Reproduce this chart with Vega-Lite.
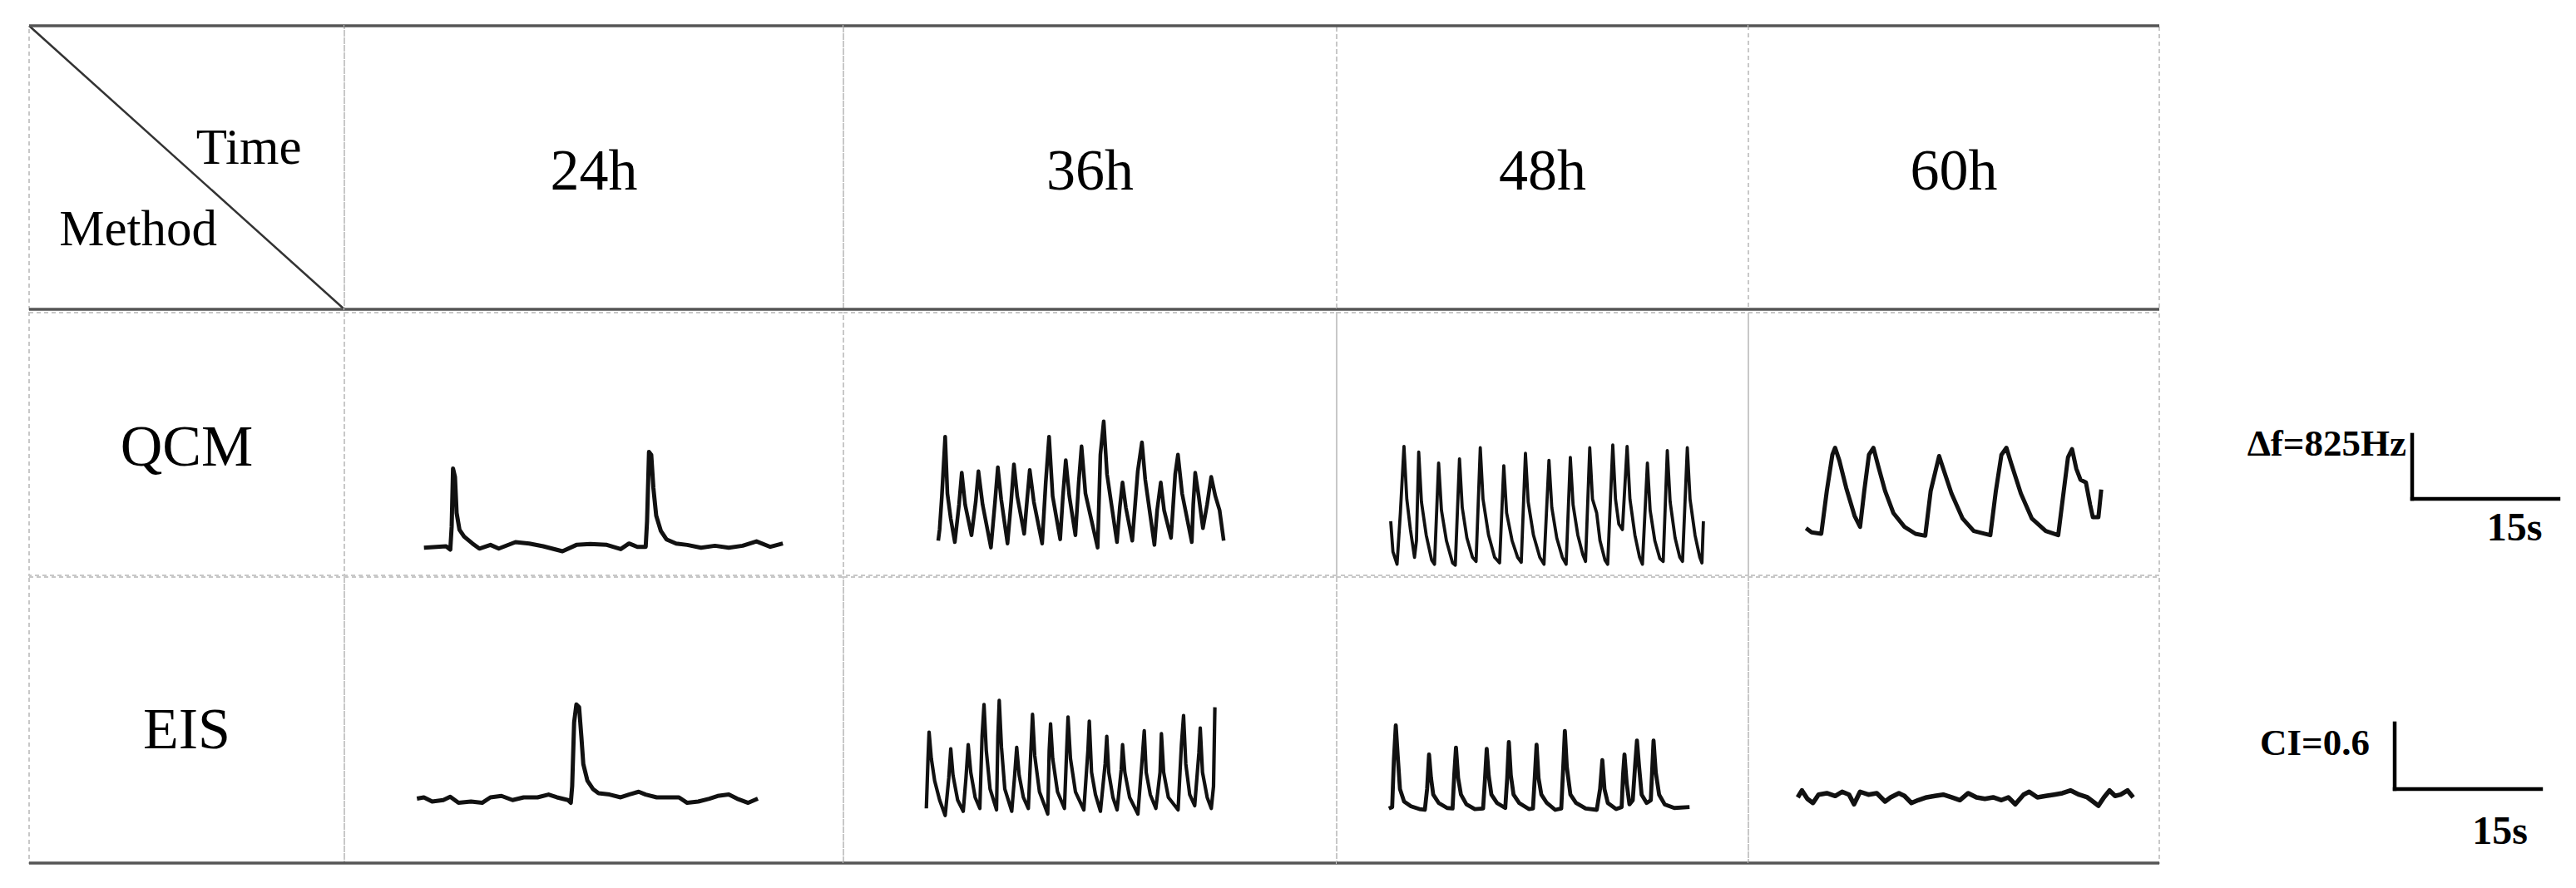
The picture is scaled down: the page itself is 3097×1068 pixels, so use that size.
{
"$schema": "https://vega.github.io/schema/vega-lite/v6.json",
"padding": {"left": 32, "top": 28, "right": 0, "bottom": 0},
"background": "white",
"spacing": 0,
"config": {"view": {"stroke": "#c8c8c8", "strokeWidth": 2, "strokeDash": [5, 4]}, "font": "Liberation Serif"},
"datasets": {
"qcm24": [{"t":0,"v":-18},{"t":2.27,"v":0},{"t":2.7,"v":-43},{"t":2.84,"v":250},{"t":2.98,"v":1000},{"t":3.18,"v":893},{"t":3.35,"v":428},{"t":3.64,"v":214},{"t":4.12,"v":125},{"t":4.97,"v":36},{"t":5.68,"v":-29},{"t":6.82,"v":18},{"t":7.67,"v":-29},{"t":9.38,"v":54},{"t":10.8,"v":36},{"t":12.22,"v":0},{"t":14.2,"v":-64},{"t":15.63,"v":18},{"t":17.05,"v":29},{"t":18.75,"v":18},{"t":20.17,"v":-36},{"t":21.02,"v":36},{"t":21.88,"v":-7},{"t":22.73,"v":-7},{"t":22.87,"v":321},{"t":23.07,"v":1214},{"t":23.3,"v":1178},{"t":23.52,"v":750},{"t":23.81,"v":393},{"t":24.29,"v":196},{"t":24.86,"v":89},{"t":25.85,"v":36},{"t":26.99,"v":18},{"t":28.4,"v":-18},{"t":29.83,"v":7},{"t":31.25,"v":-18},{"t":32.67,"v":7},{"t":34.09,"v":64},{"t":35.51,"v":-7},{"t":36.79,"v":36}],
"qcm36": [{"t":0,"v":0},{"t":0.14,"v":143},{"t":0.37,"v":571},{"t":0.71,"v":1339},{"t":0.94,"v":607},{"t":1.28,"v":286},{"t":1.7,"v":-18},{"t":2.13,"v":464},{"t":2.41,"v":875},{"t":2.76,"v":464},{"t":3.41,"v":71},{"t":3.84,"v":500},{"t":4.12,"v":893},{"t":4.55,"v":464},{"t":5.4,"v":-89},{"t":5.82,"v":500},{"t":6.11,"v":946},{"t":6.45,"v":536},{"t":7.1,"v":-36},{"t":7.47,"v":500},{"t":7.76,"v":982},{"t":8.1,"v":571},{"t":8.81,"v":89},{"t":9.09,"v":500},{"t":9.38,"v":910},{"t":9.8,"v":500},{"t":10.65,"v":-36},{"t":11.02,"v":750},{"t":11.36,"v":1339},{"t":11.73,"v":571},{"t":12.5,"v":18},{"t":12.78,"v":571},{"t":13.07,"v":1035},{"t":13.44,"v":571},{"t":14.06,"v":71},{"t":14.4,"v":750},{"t":14.69,"v":1214},{"t":15.09,"v":607},{"t":16.34,"v":-89},{"t":16.62,"v":1107},{"t":16.96,"v":1535},{"t":17.3,"v":857},{"t":18.32,"v":-18},{"t":18.61,"v":428},{"t":18.89,"v":750},{"t":19.23,"v":428},{"t":19.89,"v":0},{"t":20.45,"v":893},{"t":20.88,"v":1267},{"t":21.22,"v":785},{"t":22.16,"v":-54},{"t":22.44,"v":393},{"t":22.81,"v":750},{"t":23.15,"v":393},{"t":23.86,"v":36},{"t":24.29,"v":857},{"t":24.57,"v":1107},{"t":25.0,"v":607},{"t":25.99,"v":-18},{"t":26.14,"v":464},{"t":26.34,"v":875},{"t":26.7,"v":571},{"t":27.13,"v":161},{"t":27.56,"v":464},{"t":27.98,"v":821},{"t":28.41,"v":571},{"t":28.84,"v":393},{"t":29.26,"v":0}],
"qcm48": [{"t":0,"v":536},{"t":0.23,"v":143},{"t":0.65,"v":-18},{"t":0.99,"v":643},{"t":1.36,"v":1499},{"t":1.65,"v":821},{"t":2.02,"v":428},{"t":2.44,"v":71},{"t":2.64,"v":286},{"t":2.87,"v":1428},{"t":3.15,"v":785},{"t":3.64,"v":357},{"t":4.2,"v":36},{"t":4.49,"v":-18},{"t":4.91,"v":1285},{"t":5.2,"v":678},{"t":5.71,"v":286},{"t":6.34,"v":0},{"t":6.62,"v":-29},{"t":7.05,"v":1339},{"t":7.33,"v":714},{"t":7.81,"v":321},{"t":8.38,"v":71},{"t":8.75,"v":18},{"t":9.18,"v":1482},{"t":9.46,"v":821},{"t":10.03,"v":357},{"t":10.65,"v":71},{"t":11.16,"v":0},{"t":11.59,"v":1250},{"t":11.88,"v":643},{"t":12.44,"v":286},{"t":13.01,"v":71},{"t":13.38,"v":7},{"t":13.81,"v":1410},{"t":14.09,"v":785},{"t":14.63,"v":357},{"t":15.28,"v":71},{"t":15.71,"v":-18},{"t":16.22,"v":1321},{"t":16.51,"v":714},{"t":17.02,"v":321},{"t":17.59,"v":71},{"t":17.98,"v":-18},{"t":18.41,"v":1357},{"t":18.69,"v":750},{"t":19.18,"v":357},{"t":19.69,"v":107},{"t":19.97,"v":18},{"t":20.4,"v":1482},{"t":20.68,"v":821},{"t":21.11,"v":643},{"t":21.45,"v":286},{"t":21.96,"v":36},{"t":22.24,"v":-18},{"t":22.76,"v":1517},{"t":23.04,"v":821},{"t":23.38,"v":500},{"t":23.75,"v":428},{"t":24.23,"v":1499},{"t":24.52,"v":821},{"t":25.03,"v":357},{"t":25.51,"v":71},{"t":25.8,"v":-18},{"t":26.31,"v":1285},{"t":26.59,"v":678},{"t":27.07,"v":286},{"t":27.59,"v":54},{"t":27.93,"v":18},{"t":28.35,"v":1446},{"t":28.64,"v":785},{"t":29.15,"v":321},{"t":29.63,"v":71},{"t":29.91,"v":18},{"t":30.4,"v":1482},{"t":30.68,"v":821},{"t":31.19,"v":357},{"t":31.68,"v":71},{"t":31.9,"v":0},{"t":32.05,"v":536}],
"qcm60": [{"t":0,"v":71},{"t":0.57,"v":18},{"t":1.56,"v":0},{"t":2.13,"v":553},{"t":2.7,"v":1017},{"t":2.98,"v":1107},{"t":3.41,"v":946},{"t":4.12,"v":589},{"t":4.97,"v":232},{"t":5.54,"v":89},{"t":5.97,"v":553},{"t":6.45,"v":1017},{"t":6.91,"v":1107},{"t":7.39,"v":875},{"t":8.1,"v":553},{"t":8.95,"v":268},{"t":10.09,"v":89},{"t":11.22,"v":0},{"t":12.22,"v":-25},{"t":12.78,"v":553},{"t":13.64,"v":1000},{"t":14.06,"v":839},{"t":14.91,"v":518},{"t":16.05,"v":196},{"t":17.19,"v":36},{"t":18.89,"v":-18},{"t":19.46,"v":553},{"t":20.03,"v":1017},{"t":20.54,"v":1107},{"t":21.02,"v":910},{"t":22.02,"v":518},{"t":23.15,"v":196},{"t":24.57,"v":36},{"t":25.85,"v":-18},{"t":26.42,"v":553},{"t":26.85,"v":982},{"t":27.27,"v":1089},{"t":27.7,"v":839},{"t":28.13,"v":696},{"t":28.69,"v":660},{"t":29.12,"v":375},{"t":29.4,"v":214},{"t":29.97,"v":214},{"t":30.26,"v":571}],
"eis24": [{"t":0,"v":0.013},{"t":0.71,"v":0.025},{"t":1.56,"v":-0.013},{"t":2.7,"v":0},{"t":3.41,"v":0.03},{"t":4.26,"v":-0.025},{"t":5.54,"v":-0.013},{"t":6.68,"v":-0.025},{"t":7.53,"v":0.025},{"t":8.66,"v":0.038},{"t":9.8,"v":0},{"t":10.94,"v":0.025},{"t":12.36,"v":0.025},{"t":13.49,"v":0.051},{"t":14.35,"v":0.025},{"t":15.48,"v":0},{"t":15.77,"v":-0.025},{"t":15.91,"v":0.127},{"t":16.11,"v":0.709},{"t":16.34,"v":0.873},{"t":16.62,"v":0.848},{"t":16.85,"v":0.582},{"t":17.05,"v":0.329},{"t":17.47,"v":0.177},{"t":18.04,"v":0.101},{"t":18.61,"v":0.063},{"t":19.74,"v":0.051},{"t":20.88,"v":0.025},{"t":21.73,"v":0.051},{"t":22.73,"v":0.076},{"t":23.44,"v":0.051},{"t":24.57,"v":0.025},{"t":25.71,"v":0.025},{"t":26.85,"v":0.025},{"t":27.7,"v":-0.025},{"t":28.84,"v":-0.013},{"t":29.97,"v":0.013},{"t":30.82,"v":0.038},{"t":31.96,"v":0.051},{"t":32.81,"v":0.013},{"t":33.95,"v":-0.025},{"t":34.94,"v":0.013}],
"eis36": [{"t":0,"v":0.013},{"t":0.17,"v":0.468},{"t":0.28,"v":0.709},{"t":0.51,"v":0.468},{"t":0.85,"v":0.266},{"t":1.36,"v":0.089},{"t":1.93,"v":-0.051},{"t":2.3,"v":0.291},{"t":2.5,"v":0.557},{"t":2.73,"v":0.316},{"t":3.21,"v":0.089},{"t":3.78,"v":-0.013},{"t":4.06,"v":0.291},{"t":4.29,"v":0.595},{"t":4.55,"v":0.342},{"t":5.0,"v":0.114},{"t":5.48,"v":0.013},{"t":5.71,"v":0.671},{"t":5.91,"v":0.962},{"t":6.14,"v":0.544},{"t":6.53,"v":0.19},{"t":7.19,"v":0},{"t":7.33,"v":0.671},{"t":7.47,"v":1.0},{"t":7.7,"v":0.57},{"t":8.04,"v":0.19},{"t":8.75,"v":-0.013},{"t":9.03,"v":0.291},{"t":9.26,"v":0.57},{"t":9.51,"v":0.316},{"t":9.94,"v":0.114},{"t":10.45,"v":0.013},{"t":10.74,"v":0.595},{"t":10.88,"v":0.873},{"t":11.11,"v":0.494},{"t":11.59,"v":0.165},{"t":12.44,"v":-0.038},{"t":12.59,"v":0.544},{"t":12.73,"v":0.785},{"t":12.95,"v":0.468},{"t":13.44,"v":0.165},{"t":14.15,"v":0.013},{"t":14.38,"v":0.544},{"t":14.52,"v":0.848},{"t":14.77,"v":0.468},{"t":15.28,"v":0.165},{"t":16.14,"v":0},{"t":16.56,"v":0.544},{"t":16.7,"v":0.81},{"t":16.93,"v":0.342},{"t":17.33,"v":0.139},{"t":17.84,"v":-0.013},{"t":18.32,"v":0.418},{"t":18.49,"v":0.671},{"t":18.69,"v":0.342},{"t":19.12,"v":0.114},{"t":19.55,"v":0},{"t":19.97,"v":0.367},{"t":20.11,"v":0.595},{"t":20.34,"v":0.342},{"t":20.83,"v":0.114},{"t":21.68,"v":-0.038},{"t":22.1,"v":0.443},{"t":22.33,"v":0.722},{"t":22.53,"v":0.342},{"t":22.95,"v":0.139},{"t":23.52,"v":0.013},{"t":23.95,"v":0.342},{"t":24.09,"v":0.696},{"t":24.32,"v":0.342},{"t":24.8,"v":0.114},{"t":25.8,"v":0},{"t":26.14,"v":0.595},{"t":26.36,"v":0.861},{"t":26.59,"v":0.418},{"t":26.99,"v":0.139},{"t":27.5,"v":0.038},{"t":27.93,"v":0.519},{"t":28.07,"v":0.747},{"t":28.3,"v":0.342},{"t":28.78,"v":0.114},{"t":29.2,"v":0.013},{"t":29.43,"v":0.215},{"t":29.57,"v":0.937}],
"eis48": [{"t":0,"v":-0.013},{"t":0.34,"v":0},{"t":0.51,"v":0.418},{"t":0.71,"v":0.747},{"t":0.91,"v":0.468},{"t":1.14,"v":0.165},{"t":1.56,"v":0.051},{"t":2.27,"v":0.008},{"t":3.13,"v":-0.018},{"t":3.69,"v":-0.025},{"t":3.92,"v":0.165},{"t":4.12,"v":0.481},{"t":4.32,"v":0.266},{"t":4.55,"v":0.114},{"t":5.11,"v":0.038},{"t":5.97,"v":-0.008},{"t":6.53,"v":-0.013},{"t":6.7,"v":0.291},{"t":6.88,"v":0.544},{"t":7.1,"v":0.266},{"t":7.39,"v":0.114},{"t":7.95,"v":0.025},{"t":8.81,"v":-0.018},{"t":9.66,"v":-0.013},{"t":9.86,"v":0.266},{"t":10.03,"v":0.532},{"t":10.23,"v":0.291},{"t":10.51,"v":0.114},{"t":11.08,"v":0.038},{"t":11.93,"v":-0.008},{"t":12.13,"v":0.266},{"t":12.3,"v":0.595},{"t":12.5,"v":0.291},{"t":12.78,"v":0.114},{"t":13.35,"v":0.038},{"t":14.35,"v":-0.018},{"t":14.77,"v":-0.013},{"t":14.97,"v":0.291},{"t":15.14,"v":0.57},{"t":15.34,"v":0.266},{"t":15.63,"v":0.114},{"t":16.19,"v":0.038},{"t":17.05,"v":-0.025},{"t":17.67,"v":-0.013},{"t":17.9,"v":0.418},{"t":18.04,"v":0.696},{"t":18.24,"v":0.367},{"t":18.61,"v":0.114},{"t":19.18,"v":0.038},{"t":20.17,"v":-0.013},{"t":21.31,"v":-0.025},{"t":21.65,"v":0.165},{"t":21.88,"v":0.43},{"t":22.1,"v":0.165},{"t":22.44,"v":0.038},{"t":23.3,"v":-0.018},{"t":23.86,"v":0},{"t":24.0,"v":0.291},{"t":24.15,"v":0.481},{"t":24.38,"v":0.215},{"t":24.66,"v":0.025},{"t":25.0,"v":0.063},{"t":25.23,"v":0.367},{"t":25.43,"v":0.608},{"t":25.65,"v":0.367},{"t":25.91,"v":0.114},{"t":26.42,"v":0.038},{"t":26.85,"v":0.063},{"t":26.99,"v":0.342},{"t":27.13,"v":0.608},{"t":27.36,"v":0.316},{"t":27.7,"v":0.114},{"t":28.27,"v":0.025},{"t":29.26,"v":-0.008},{"t":30.82,"v":0}],
"eis60": [{"t":0,"v":0},{"t":0.43,"v":0.063},{"t":0.99,"v":-0.013},{"t":1.56,"v":-0.051},{"t":2.13,"v":0.025},{"t":2.98,"v":0.038},{"t":3.84,"v":0.013},{"t":4.55,"v":0.051},{"t":5.26,"v":0.025},{"t":5.77,"v":-0.063},{"t":6.39,"v":0.051},{"t":7.24,"v":0.025},{"t":8.1,"v":0.038},{"t":8.95,"v":-0.038},{"t":9.52,"v":0},{"t":10.37,"v":0.038},{"t":10.94,"v":0.013},{"t":11.65,"v":-0.051},{"t":12.36,"v":-0.025},{"t":13.21,"v":0},{"t":14.06,"v":0.013},{"t":14.91,"v":0.025},{"t":15.77,"v":0},{"t":16.62,"v":-0.025},{"t":17.47,"v":0.038},{"t":18.32,"v":0},{"t":19.18,"v":-0.013},{"t":20.03,"v":0},{"t":20.88,"v":-0.025},{"t":21.59,"v":0},{"t":22.3,"v":-0.063},{"t":23.15,"v":0.025},{"t":23.72,"v":0.051},{"t":24.57,"v":0},{"t":25.43,"v":0.013},{"t":26.28,"v":0.025},{"t":27.13,"v":0.038},{"t":27.98,"v":0.063},{"t":28.84,"v":0.025},{"t":29.69,"v":0},{"t":30.26,"v":-0.038},{"t":30.82,"v":-0.076},{"t":31.39,"v":0},{"t":31.96,"v":0.063},{"t":32.53,"v":0.013},{"t":33.1,"v":0.025},{"t":33.81,"v":0.063},{"t":34.38,"v":0}]
},
"vconcat": [
{"spacing": 0, "bounds": "flush", "hconcat": [
  {"width": 379, "height": 341, "data": {"values": [{"a": "Time", "b": "Method"}]}, "layer": [
    {"mark": {"type": "rule", "color": "#333333", "strokeWidth": 2.5}, "encoding": {"x": {"datum": 0, "type": "quantitative", "scale": {"domain": [0, 1], "nice": false, "zero": false}, "axis": null}, "x2": {"datum": 1}, "y": {"datum": 1, "type": "quantitative", "scale": {"domain": [0, 1], "nice": false, "zero": false}, "axis": null}, "y2": {"datum": 0}}},
    {"mark": {"type": "rule", "color": "#555555", "strokeWidth": 3.5}, "encoding": {"y": {"datum": 1, "type": "quantitative", "scale": {"domain": [0, 1], "nice": false, "zero": false}, "axis": null}}},
    {"mark": {"type": "rule", "color": "#555555", "strokeWidth": 3.5}, "encoding": {"y": {"datum": 0, "type": "quantitative", "scale": {"domain": [0, 1], "nice": false, "zero": false}, "axis": null}}},
    {"mark": {"type": "text", "font": "Liberation Serif", "fontSize": 61, "align": "center", "baseline": "alphabetic", "color": "black"}, "encoding": {"text": {"field": "a"}, "x": {"datum": 0.697, "type": "quantitative", "scale": {"domain": [0, 1], "nice": false, "zero": false}, "axis": null}, "y": {"datum": 0.513, "type": "quantitative", "scale": {"domain": [0, 1], "nice": false, "zero": false}, "axis": null}}},
    {"mark": {"type": "text", "font": "Liberation Serif", "fontSize": 61, "align": "center", "baseline": "alphabetic", "color": "black"}, "encoding": {"text": {"field": "b"}, "x": {"datum": 0.346, "type": "quantitative", "scale": {"domain": [0, 1], "nice": false, "zero": false}, "axis": null}, "y": {"datum": 0.226, "type": "quantitative", "scale": {"domain": [0, 1], "nice": false, "zero": false}, "axis": null}}}
  ]},
  {"width": 600, "height": 341, "data": {"values": [{"time": "24h"}]}, "layer": [
    {"mark": {"type": "rule", "color": "#555555", "strokeWidth": 3.5}, "encoding": {"y": {"datum": 1, "type": "quantitative", "scale": {"domain": [0, 1], "nice": false, "zero": false}, "axis": null}}},
    {"mark": {"type": "rule", "color": "#555555", "strokeWidth": 3.5}, "encoding": {"y": {"datum": 0, "type": "quantitative", "scale": {"domain": [0, 1], "nice": false, "zero": false}, "axis": null}}},
    {"mark": {"type": "text", "font": "Liberation Serif", "fontSize": 70, "align": "center", "baseline": "alphabetic", "color": "black"}, "encoding": {"text": {"field": "time"}, "x": {"datum": 0.5, "type": "quantitative", "scale": {"domain": [0, 1], "nice": false, "zero": false}, "axis": null}, "y": {"datum": 0.422, "type": "quantitative", "scale": {"domain": [0, 1], "nice": false, "zero": false}, "axis": null}}}
  ]},
  {"width": 593, "height": 341, "data": {"values": [{"time": "36h"}]}, "layer": [
    {"mark": {"type": "rule", "color": "#555555", "strokeWidth": 3.5}, "encoding": {"y": {"datum": 1, "type": "quantitative", "scale": {"domain": [0, 1], "nice": false, "zero": false}, "axis": null}}},
    {"mark": {"type": "rule", "color": "#555555", "strokeWidth": 3.5}, "encoding": {"y": {"datum": 0, "type": "quantitative", "scale": {"domain": [0, 1], "nice": false, "zero": false}, "axis": null}}},
    {"mark": {"type": "text", "font": "Liberation Serif", "fontSize": 70, "align": "center", "baseline": "alphabetic", "color": "black"}, "encoding": {"text": {"field": "time"}, "x": {"datum": 0.5, "type": "quantitative", "scale": {"domain": [0, 1], "nice": false, "zero": false}, "axis": null}, "y": {"datum": 0.422, "type": "quantitative", "scale": {"domain": [0, 1], "nice": false, "zero": false}, "axis": null}}}
  ]},
  {"width": 495, "height": 341, "data": {"values": [{"time": "48h"}]}, "layer": [
    {"mark": {"type": "rule", "color": "#555555", "strokeWidth": 3.5}, "encoding": {"y": {"datum": 1, "type": "quantitative", "scale": {"domain": [0, 1], "nice": false, "zero": false}, "axis": null}}},
    {"mark": {"type": "rule", "color": "#555555", "strokeWidth": 3.5}, "encoding": {"y": {"datum": 0, "type": "quantitative", "scale": {"domain": [0, 1], "nice": false, "zero": false}, "axis": null}}},
    {"mark": {"type": "text", "font": "Liberation Serif", "fontSize": 70, "align": "center", "baseline": "alphabetic", "color": "black"}, "encoding": {"text": {"field": "time"}, "x": {"datum": 0.5, "type": "quantitative", "scale": {"domain": [0, 1], "nice": false, "zero": false}, "axis": null}, "y": {"datum": 0.422, "type": "quantitative", "scale": {"domain": [0, 1], "nice": false, "zero": false}, "axis": null}}}
  ]},
  {"width": 494, "height": 341, "data": {"values": [{"time": "60h"}]}, "layer": [
    {"mark": {"type": "rule", "color": "#555555", "strokeWidth": 3.5}, "encoding": {"y": {"datum": 1, "type": "quantitative", "scale": {"domain": [0, 1], "nice": false, "zero": false}, "axis": null}}},
    {"mark": {"type": "rule", "color": "#555555", "strokeWidth": 3.5}, "encoding": {"y": {"datum": 0, "type": "quantitative", "scale": {"domain": [0, 1], "nice": false, "zero": false}, "axis": null}}},
    {"mark": {"type": "text", "font": "Liberation Serif", "fontSize": 70, "align": "center", "baseline": "alphabetic", "color": "black"}, "encoding": {"text": {"field": "time"}, "x": {"datum": 0.5, "type": "quantitative", "scale": {"domain": [0, 1], "nice": false, "zero": false}, "axis": null}, "y": {"datum": 0.422, "type": "quantitative", "scale": {"domain": [0, 1], "nice": false, "zero": false}, "axis": null}}}
  ]}
]},
{"spacing": 0, "bounds": "flush", "hconcat": [
  {"width": 379, "height": 316, "data": {"values": [{"method": "QCM"}]}, "mark": {"type": "text", "font": "Liberation Serif", "fontSize": 70, "align": "center", "baseline": "alphabetic", "color": "black"}, "encoding": {"text": {"field": "method"}, "x": {"datum": 0.5, "type": "quantitative", "scale": {"domain": [0, 1], "nice": false, "zero": false}, "axis": null}, "y": {"datum": 0.418, "type": "quantitative", "scale": {"domain": [0, 1], "nice": false, "zero": false}, "axis": null}}},
  {"width": 600, "height": 316, "data": {"name": "qcm24"}, "mark": {"type": "line", "color": "#111111", "strokeWidth": 5, "strokeJoin": "round"}, "encoding": {"x": {"field": "t", "type": "quantitative", "scale": {"domain": [-8.16, 43.0], "nice": false, "zero": false}, "axis": null}, "y": {"field": "v", "type": "quantitative", "scale": {"domain": [-374, 3007], "nice": false, "zero": false}, "axis": null}}},
  {"width": 593, "height": 316, "data": {"name": "qcm36"}, "mark": {"type": "line", "color": "#111111", "strokeWidth": 4.5, "strokeJoin": "round"}, "encoding": {"x": {"field": "t", "type": "quantitative", "scale": {"domain": [-9.72, 40.84], "nice": false, "zero": false}, "axis": null}, "y": {"field": "v", "type": "quantitative", "scale": {"domain": [-446, 2935], "nice": false, "zero": false}, "axis": null}}},
  {"width": 495, "height": 316, "data": {"name": "qcm48"}, "mark": {"type": "line", "color": "#111111", "strokeWidth": 3.8, "strokeJoin": "round"}, "encoding": {"x": {"field": "t", "type": "quantitative", "scale": {"domain": [-5.54, 36.66], "nice": false, "zero": false}, "axis": null}, "y": {"field": "v", "type": "quantitative", "scale": {"domain": [-161, 3221], "nice": false, "zero": false}, "axis": null}}},
  {"width": 494, "height": 316, "data": {"name": "qcm60"}, "mark": {"type": "line", "color": "#111111", "strokeWidth": 5, "strokeJoin": "round"}, "encoding": {"x": {"field": "t", "type": "quantitative", "scale": {"domain": [-5.91, 36.21], "nice": false, "zero": false}, "axis": null}, "y": {"field": "v", "type": "quantitative", "scale": {"domain": [-535, 2846], "nice": false, "zero": false}, "axis": null}}},
  {"width": 504, "height": 316, "view": {"stroke": null}, "layer": [
    {"data": {"values": [{"t": 0, "t2": 0, "v": 0, "v2": 825}, {"t": 0, "t2": 15, "v": 0, "v2": 0}]}, "mark": {"type": "rule", "color": "black", "strokeWidth": 4.5, "strokeCap": "square"}, "encoding": {"x": {"field": "t", "type": "quantitative", "scale": {"domain": [-25.92, 17.05], "nice": false, "zero": false}, "axis": null}, "x2": {"field": "t2"}, "y": {"field": "v", "type": "quantitative", "scale": {"domain": [-984, 2397], "nice": false, "zero": false}, "axis": null}, "y2": {"field": "v2"}}},
    {"data": {"values": [{"label": "Δf=825Hz"}]}, "mark": {"type": "text", "font": "Liberation Serif", "fontWeight": "bold", "fontSize": 45, "align": "right", "baseline": "alphabetic", "color": "black"}, "encoding": {"text": {"field": "label"}, "x": {"datum": -0.6, "type": "quantitative", "scale": {"domain": [-25.92, 17.05], "nice": false, "zero": false}, "axis": null}, "y": {"datum": 556, "type": "quantitative", "scale": {"domain": [-984, 2397], "nice": false, "zero": false}, "axis": null}}},
    {"data": {"values": [{"label": "15s"}]}, "mark": {"type": "text", "font": "Liberation Serif", "fontWeight": "bold", "fontSize": 48, "align": "center", "baseline": "alphabetic", "color": "black"}, "encoding": {"text": {"field": "label"}, "x": {"datum": 10.5, "type": "quantitative", "scale": {"domain": [-25.92, 17.05], "nice": false, "zero": false}, "axis": null}, "y": {"datum": -535, "type": "quantitative", "scale": {"domain": [-984, 2397], "nice": false, "zero": false}, "axis": null}}}
  ]}
]},
{"spacing": 0, "bounds": "flush", "hconcat": [
  {"width": 379, "height": 344, "data": {"values": [{"method": "EIS"}]}, "layer": [
    {"mark": {"type": "rule", "color": "#555555", "strokeWidth": 3.5}, "encoding": {"y": {"datum": 0, "type": "quantitative", "scale": {"domain": [0, 1], "nice": false, "zero": false}, "axis": null}}},
    {"mark": {"type": "text", "font": "Liberation Serif", "fontSize": 70, "align": "center", "baseline": "alphabetic", "color": "black"}, "encoding": {"text": {"field": "method"}, "x": {"datum": 0.5, "type": "quantitative", "scale": {"domain": [0, 1], "nice": false, "zero": false}, "axis": null}, "y": {"datum": 0.401, "type": "quantitative", "scale": {"domain": [0, 1], "nice": false, "zero": false}, "axis": null}}}
  ]},
  {"width": 600, "height": 344, "layer": [
    {"data": {"name": "eis24"}, "mark": {"type": "line", "color": "#111111", "strokeWidth": 5, "strokeJoin": "round"}, "encoding": {"x": {"field": "t", "type": "quantitative", "scale": {"domain": [-7.44, 43.71], "nice": false, "zero": false}, "axis": null}, "y": {"field": "v", "type": "quantitative", "scale": {"domain": [-0.575, 2.037], "nice": false, "zero": false}, "axis": null}}},
    {"data": {"values": [{}]}, "mark": {"type": "rule", "color": "#555555", "strokeWidth": 3.5}, "encoding": {"y": {"datum": -0.575, "type": "quantitative", "scale": {"domain": [-0.575, 2.037], "nice": false, "zero": false}, "axis": null}}}
  ]},
  {"width": 593, "height": 344, "layer": [
    {"data": {"name": "eis36"}, "mark": {"type": "line", "color": "#111111", "strokeWidth": 4.2, "strokeJoin": "round"}, "encoding": {"x": {"field": "t", "type": "quantitative", "scale": {"domain": [-8.5, 42.05], "nice": false, "zero": false}, "axis": null}, "y": {"field": "v", "type": "quantitative", "scale": {"domain": [-0.486, 2.126], "nice": false, "zero": false}, "axis": null}}},
    {"data": {"values": [{}]}, "mark": {"type": "rule", "color": "#555555", "strokeWidth": 3.5}, "encoding": {"y": {"datum": -0.486, "type": "quantitative", "scale": {"domain": [-0.486, 2.126], "nice": false, "zero": false}, "axis": null}}}
  ]},
  {"width": 495, "height": 344, "layer": [
    {"data": {"name": "eis48"}, "mark": {"type": "line", "color": "#111111", "strokeWidth": 4.8, "strokeJoin": "round"}, "encoding": {"x": {"field": "t", "type": "quantitative", "scale": {"domain": [-5.35, 36.85], "nice": false, "zero": false}, "axis": null}, "y": {"field": "v", "type": "quantitative", "scale": {"domain": [-0.511, 2.101], "nice": false, "zero": false}, "axis": null}}},
    {"data": {"values": [{}]}, "mark": {"type": "rule", "color": "#555555", "strokeWidth": 3.5}, "encoding": {"y": {"datum": -0.511, "type": "quantitative", "scale": {"domain": [-0.511, 2.101], "nice": false, "zero": false}, "axis": null}}}
  ]},
  {"width": 494, "height": 344, "layer": [
    {"data": {"name": "eis60"}, "mark": {"type": "line", "color": "#111111", "strokeWidth": 5.5, "strokeJoin": "round"}, "encoding": {"x": {"field": "t", "type": "quantitative", "scale": {"domain": [-5.06, 37.06], "nice": false, "zero": false}, "axis": null}, "y": {"field": "v", "type": "quantitative", "scale": {"domain": [-0.6, 2.012], "nice": false, "zero": false}, "axis": null}}},
    {"data": {"values": [{}]}, "mark": {"type": "rule", "color": "#555555", "strokeWidth": 3.5}, "encoding": {"y": {"datum": -0.6, "type": "quantitative", "scale": {"domain": [-0.6, 2.012], "nice": false, "zero": false}, "axis": null}}}
  ]},
  {"width": 504, "height": 344, "view": {"stroke": null}, "layer": [
    {"data": {"values": [{"t": 0, "t2": 0, "v": 0, "v2": 0.6}, {"t": 0, "t2": 15, "v": 0, "v2": 0}]}, "mark": {"type": "rule", "color": "black", "strokeWidth": 4.5, "strokeCap": "square"}, "encoding": {"x": {"field": "t", "type": "quantitative", "scale": {"domain": [-24.13, 18.84], "nice": false, "zero": false}, "axis": null}, "x2": {"field": "t2"}, "y": {"field": "v", "type": "quantitative", "scale": {"domain": [-0.676, 1.936], "nice": false, "zero": false}, "axis": null}, "y2": {"field": "v2"}}},
    {"data": {"values": [{"label": "CI=0.6"}]}, "mark": {"type": "text", "font": "Liberation Serif", "fontWeight": "bold", "fontSize": 45, "align": "right", "baseline": "alphabetic", "color": "black"}, "encoding": {"text": {"field": "label"}, "x": {"datum": -2.56, "type": "quantitative", "scale": {"domain": [-24.13, 18.84], "nice": false, "zero": false}, "axis": null}, "y": {"datum": 0.311, "type": "quantitative", "scale": {"domain": [-0.676, 1.936], "nice": false, "zero": false}, "axis": null}}},
    {"data": {"values": [{"label": "15s"}]}, "mark": {"type": "text", "font": "Liberation Serif", "fontWeight": "bold", "fontSize": 48, "align": "center", "baseline": "alphabetic", "color": "black"}, "encoding": {"text": {"field": "label"}, "x": {"datum": 10.8, "type": "quantitative", "scale": {"domain": [-24.13, 18.84], "nice": false, "zero": false}, "axis": null}, "y": {"datum": -0.5, "type": "quantitative", "scale": {"domain": [-0.676, 1.936], "nice": false, "zero": false}, "axis": null}}}
  ]}
]}
]
}
